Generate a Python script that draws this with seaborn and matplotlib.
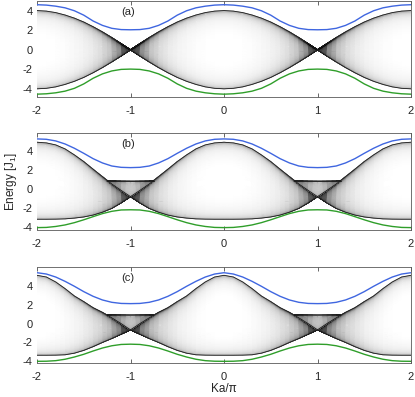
import numpy as np
import matplotlib
matplotlib.use('Agg')
import matplotlib.pyplot as plt
from matplotlib.colors import LogNorm
import seaborn as sns

# ── style ───────────────────────────────────────────────────
sns.set_theme(style="white")
plt.rcParams['font.family'] = ['Liberation Sans', 'DejaVu Sans']
plt.rcParams['mathtext.fontset'] = 'custom'
plt.rcParams['mathtext.rm'] = 'Liberation Sans'

BLUE  = '#3f66e0'
GREEN = '#2f9e2a'
EDGE  = '0.1'
NORM  = LogNorm(vmin=0.085, vmax=1.9)

# ── data (half period K = 0 .. 1, in units of Ka/pi) ──
K_HALF = [0.0, 0.1, 0.2, 0.3, 0.4, 0.5, 0.6, 0.7, 0.8, 0.9, 1.0]

# panel (a)
a_blue  = [4.62, 4.58, 4.47, 4.30, 4.00, 3.55, 2.95, 2.50, 2.20, 2.07, 2.05]
a_green = [-4.55, -4.51, -4.41, -4.24, -3.95, -3.50, -2.92, -2.47, -2.17, -2.01, -1.98]
a_upper = [4.02, 3.96, 3.81, 3.56, 3.24, 2.84, 2.36, 1.83, 1.25, 0.63, 0.0]
a_lower = [-4.00, -3.95, -3.80, -3.55, -3.23, -2.83, -2.35, -1.82, -1.24, -0.63, 0.0]

# panel (b)
b_blue  = [5.28, 5.24, 5.07, 4.75, 4.30, 3.77, 3.21, 2.76, 2.44, 2.30, 2.27]
b_green = [-4.02, -4.00, -3.90, -3.74, -3.50, -3.20, -2.87, -2.55, -2.31, -2.17, -2.15]
b_upper = [4.93, 4.86, 4.65, 4.23, 3.60, 2.90, 2.10, 1.32, 0.55, -0.12, -0.77]
b_lower = [-3.14, -3.14, -3.13, -3.10, -3.02, -2.90, -2.70, -2.40, -2.00, -1.42, -0.77]

# panel (c)
c_blue  = [5.44, 5.30, 4.98, 4.52, 3.99, 3.42, 2.92, 2.53, 2.28, 2.16, 2.14]
c_green = [-4.02, -4.01, -3.95, -3.80, -3.56, -3.27, -2.92, -2.60, -2.36, -2.22, -2.19]
c_upper = [5.16, 4.98, 4.45, 3.74, 2.95, 2.35, 1.70, 1.20, 0.62, 0.00, -0.66]
c_lower = [-3.37, -3.37, -3.36, -3.32, -3.15, -2.85, -2.45, -2.00, -1.58, -1.12, -0.66]

# small pockets above the crossing at Ka/pi = 1 (mirrored at -1)
TRI_K     = [0.75, 0.8, 0.9, 1.0, 1.1, 1.2, 1.25]
b_tri_top = [0.91, 0.91, 0.91, 0.91, 0.91, 0.91, 0.91]
b_tri_bot = [0.91, 0.55, -0.12, -0.77, -0.12, 0.55, 0.91]
c_tri_top = [0.92, 0.95, 0.93, 0.92, 0.93, 0.95, 0.92]
c_tri_bot = [0.92, 0.62, 0.00, -0.66, 0.00, 0.62, 0.92]

XTICKS = [-2, -1, 0, 1, 2]
YTICKS = [-4, -2, 0, 2, 4]
LABELS = ['(a)', '(b)', '(c)']


def unfold(half):
    """half period 0..1 -> full range -2..2 (even, period 2)"""
    h = np.asarray(half, float)
    right = np.concatenate([h, h[-2::-1]])
    return np.concatenate([right[:0:-1], right])


K_FULL = np.linspace(-2, 2, 41)     # the 0.1 grid the values were read on


def draw_band(ax, k, top, bottom, p=0.4, cap=3.5, scale=1.0, min_w=1e-3):
    # grey shading between two read edges, darker towards the edges
    k = np.asarray(k, float)
    top = np.asarray(top, float)
    bottom = np.asarray(bottom, float)
    s = np.linspace(0, 1, 121)
    width = np.maximum(top - bottom, min_w)
    X = np.tile(k, (s.size, 1))
    Y = bottom[None, :] + s[:, None] * (top - bottom)[None, :]
    prof = np.minimum(np.maximum(4 * s * (1 - s), 1e-9) ** (-p), cap)
    dens = scale * 2 / (np.pi * width[None, :]) * prof[:, None]
    dens = np.clip(dens, 1e-3, 1e3)
    ax.pcolormesh(X, Y, dens, shading='gouraud', cmap='Greys', norm=NORM, zorder=1)


panels = [
    dict(blue=a_blue, green=a_green, up=a_upper, lo=a_lower, tri=None,
         ylim=(-4.84, 5.0), pos=[37/415, 300/397, 374/415, 96/397]),
    dict(blue=b_blue, green=b_green, up=b_upper, lo=b_lower, tri=(b_tri_top, b_tri_bot),
         ylim=(-4.27, 5.9), pos=[37/415, 167/397, 374/415, 97/397]),
    dict(blue=c_blue, green=c_green, up=c_upper, lo=c_lower, tri=(c_tri_top, c_tri_bot),
         ylim=(-4.2, 6.05), pos=[37/415, 34/397, 374/415, 96/397]),
]

fig = plt.figure(figsize=(4.15, 3.97), dpi=100)
axes = []
for i, p in enumerate(panels):
    ax = fig.add_axes(p['pos'])
    axes.append(ax)

    up, lo = unfold(p['up']), unfold(p['lo'])
    # three lobes of the continuum: [-2,-1], [-1,1], [1,2]
    for a, b in [(0, 11), (10, 31), (30, 41)]:
        draw_band(ax, K_FULL[a:b], up[a:b], lo[a:b])
    sns.lineplot(x=K_FULL, y=up, ax=ax, color=EDGE, linewidth=0.6, zorder=2)
    sns.lineplot(x=K_FULL, y=lo, ax=ax, color=EDGE, linewidth=0.6, zorder=2)

    if p['tri'] is not None:
        tk = np.asarray(TRI_K)
        top, bot = np.asarray(p['tri'][0]), np.asarray(p['tri'][1])
        for sign in (1, -1):
            kk = sign * tk
            draw_band(ax, kk[::sign], top[::sign], bot[::sign],
                      p=0.3, cap=2.5, scale=0.5, min_w=0.6)
            sns.lineplot(x=kk, y=top, ax=ax, color=EDGE, linewidth=0.6, zorder=2)

    sns.lineplot(x=K_FULL, y=unfold(p['blue']), ax=ax, color=BLUE, linewidth=1.0, zorder=3)
    sns.lineplot(x=K_FULL, y=unfold(p['green']), ax=ax, color=GREEN, linewidth=1.0, zorder=3)

    ax.set_xlim(-2, 2)
    ax.set_ylim(*p['ylim'])
    ax.set_xticks(XTICKS)
    ax.set_xticklabels([str(t) for t in XTICKS])
    ax.set_yticks(YTICKS)
    ax.set_yticklabels([str(t) for t in YTICKS])
    ax.set_xlabel('')
    ax.set_ylabel('')
    ax.tick_params(axis='x', direction='in', top=True, bottom=True, length=3,
                   width=0.6, color='0.3', pad=6.5, labelsize=8)
    ax.tick_params(axis='y', left=True, length=0, pad=3, labelsize=8)
    ax.spines['left'].set_visible(False)
    for side in ['top', 'bottom', 'right']:
        ax.spines[side].set_color('0.35')
        ax.spines[side].set_linewidth(0.6)
    ax.text(0.243, 0.885, LABELS[i], transform=ax.transAxes,
            ha='center', va='center', fontsize=8)

axes[1].set_ylabel('Energy [J$_\\mathregular{1}$]', fontsize=8.5, labelpad=3)
axes[2].set_xlabel('Ka/\u03c0', fontsize=8.5, labelpad=1)

fig.savefig('out.png', dpi=100, facecolor='white')
